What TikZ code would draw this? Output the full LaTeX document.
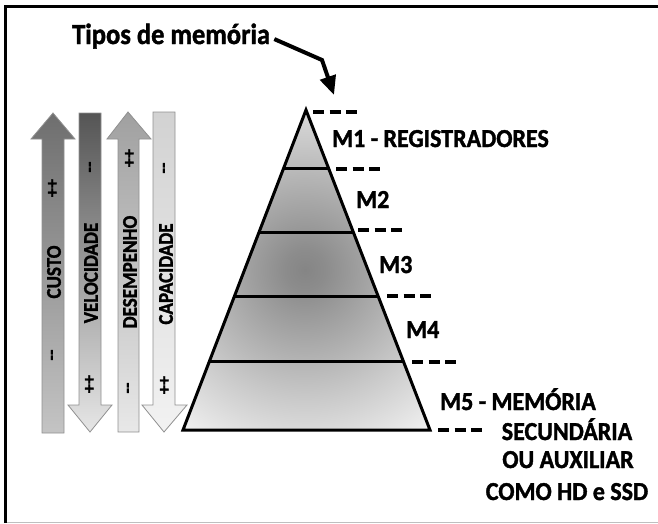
\documentclass[tikz,border=0pt]{standalone}
\usepackage{fontspec}
\setmainfont{Carlito}[BoldFeatures={FakeBold=1.5}]
\usetikzlibrary{arrows.meta,calc}
\definecolor{p0}{HTML}{858585}
\definecolor{p1}{HTML}{8C8C8C}
\definecolor{p2}{HTML}{A8A8A8}
\definecolor{p3}{HTML}{CACACA}
\definecolor{p4}{HTML}{F0F0F0}
\definecolor{aonet}{HTML}{6E6E6E}
\definecolor{aoneb}{HTML}{C4C4C4}
\definecolor{atwot}{HTML}{555555}
\definecolor{atwob}{HTML}{E6E6E6}
\definecolor{athreet}{HTML}{A0A0A0}
\definecolor{athreeb}{HTML}{E8E8E8}
\definecolor{afourt}{HTML}{D2D2D2}
\definecolor{afourb}{HTML}{F2F2F2}
\definecolor{arrowedge}{HTML}{909090}
\pgfdeclareradialshading{pyr}{\pgfpoint{0bp}{0bp}}{color(0bp)=(p0); color(2.5bp)=(p1); color(8.75bp)=(p2); color(16.25bp)=(p3); color(25bp)=(p4); color(50bp)=(p4)}
\begin{document}
\begin{tikzpicture}[x=1pt,y=-1pt,
  lbl/.style={font=\bfseries\fontsize{24}{27}\selectfont, inner sep=0pt, yscale=1.08},
  ttl/.style={font=\bfseries\fontsize{26.5}{30}\selectfont, inner sep=0pt, yscale=1.1},
  vlbl/.style={font=\bfseries\fontsize{19}{21}\selectfont, rotate=90, inner sep=0pt, yscale=1.1},
  sgn/.style={font=\bfseries\fontsize{18}{20}\selectfont, rotate=90, inner sep=0pt},
  lvl/.style={line width=3pt},
  tickmark/.style={line width=3.2pt, dash pattern=on 11pt off 5.5pt},
  arr/.style={draw=arrowedge, line width=0.8pt}]
\useasboundingbox (0,0) rectangle (658,523);
% frame
\draw[line width=3.3pt] (5.7,523) -- (5.7,6.7) -- (658,6.7);
\draw[black!25, line width=1pt] (7,522.5) -- (658,522.5);

% title and arrow
\node[ttl, anchor=base west] (title) at (72,44) {Tipos de memória};
\coordinate (bend) at (322,60);
\coordinate (tip) at (334,95);
\draw[line width=4pt, line join=miter, -{Triangle[width=16pt,length=19pt]}] ($(title.east)+(4,3)$) -- (bend) -- (tip);

% pyramid
\coordinate (apex) at (306,110);
\coordinate (bl) at (183,430);
\coordinate (br) at (430,430);
\begin{scope}
  \clip (apex) -- (br) -- (bl) -- cycle;
  \shade[shading=pyr] (305,270) circle (200);
\end{scope}
\foreach \t in {0.18125,0.38125,0.58125,0.784375}{
  \draw[lvl] ($(apex)!\t!(bl)$) -- ($(apex)!\t!(br)$);
}
\draw[lvl, line join=miter] (apex) -- (br) -- (bl) -- cycle;

% dashed ticks
\draw[tickmark] (313,112) -- (357,112);
\draw[tickmark] (336,169) -- (380,169);
\draw[tickmark] (358,230) -- (402,230);
\draw[tickmark] (387,296) -- (431,296);
\draw[tickmark] (412,362) -- (456,362);
\draw[tickmark] (438,430) -- (482,430);

% level labels
\node[lbl, anchor=base west] (m1) at (332,147) {M1 - REGISTRADORES};
\node[lbl, anchor=base west] (m2) at (356,208) {M2};
\node[lbl, anchor=base west] (m3) at (379,273) {M3};
\node[lbl, anchor=base west] (m4) at (406,338) {M4};
\node[lbl, anchor=base west] (m5) at (440,410) {M5 - MEMÓRIA};
\node[lbl, anchor=base] (m5b) at (567,440) {SECUNDÁRIA};
\node[lbl, anchor=base] (m5c) at (568,468) {OU AUXILIAR};
\node[lbl, anchor=base] (m5d) at (567,500) {COMO HD e SSD};

% side arrows
\shade[arr, top color=aonet, bottom color=aoneb]
  (53,113) -- (75,139) -- (64,139) -- (64,433) -- (42,433) -- (42,139) -- (31,139) -- cycle;
\shade[arr, top color=atwot, bottom color=atwob]
  (79,113) -- (101,113) -- (101,405) -- (112,405) -- (90,432) -- (68,405) -- (79,405) -- cycle;
\shade[arr, top color=athreet, bottom color=athreeb]
  (128,112) -- (151,139) -- (139,139) -- (139,432) -- (118,432) -- (118,139) -- (107,139) -- cycle;
\shade[arr, top color=afourt, bottom color=afourb]
  (153,112) -- (175,112) -- (175,405) -- (187,405) -- (164,432) -- (142,405) -- (153,405) -- cycle;

\node[vlbl] (custo) at (54,272) {CUSTO};
\node[vlbl] (vel) at (91,273) {VELOCIDADE};
\node[vlbl] (des) at (130,272) {DESEMPENHO};
\node[vlbl] (cap) at (166,274) {CAPACIDADE};

\node[sgn] (s1a) at (53,188) {++};
\node[sgn] (s1b) at (54,355) {-{}-};
\node[sgn] (s2a) at (92,167) {-{}-};
\node[sgn] (s2b) at (90,384) {++};
\node[sgn] (s3a) at (130,158) {++};
\node[sgn] (s3b) at (130,388) {-{}-};
\node[sgn] (s4a) at (166,168) {-{}-};
\node[sgn] (s4b) at (165,385) {++};
\end{tikzpicture}
\end{document}
